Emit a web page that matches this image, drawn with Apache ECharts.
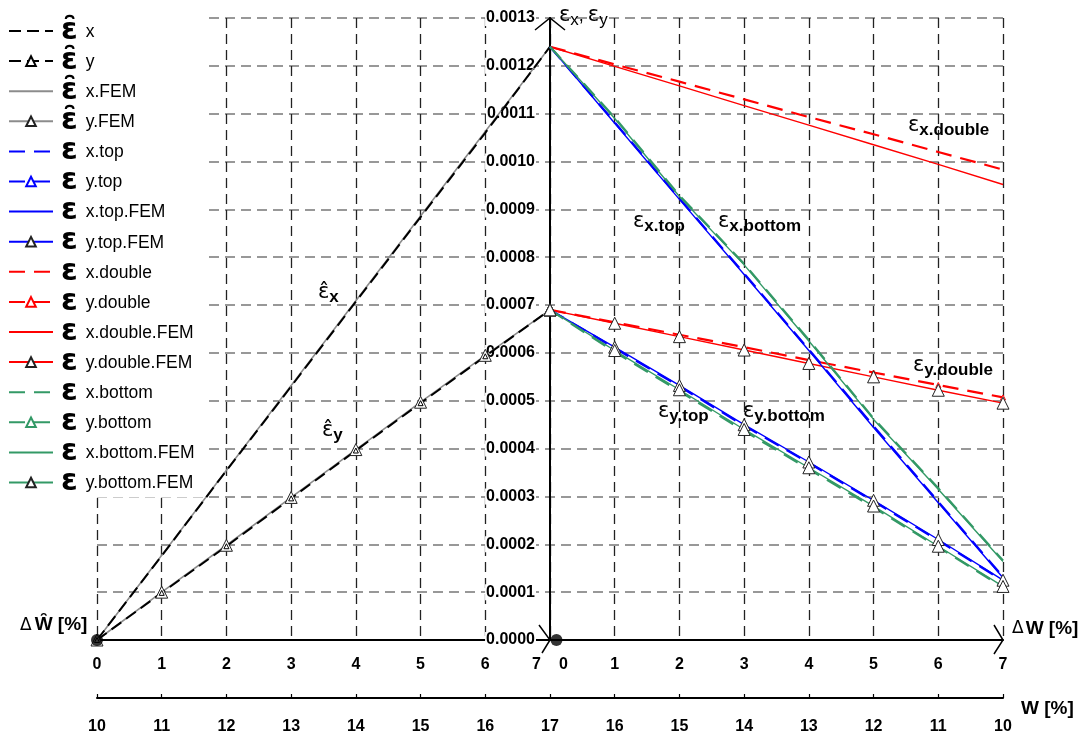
<!DOCTYPE html>
<html><head><meta charset="utf-8">
<script src="https://cdn.jsdelivr.net/npm/echarts@6/dist/echarts.min.js"></script>
<style>html,body{margin:0;padding:0;background:#fff}#c{width:1085px;height:740px}</style>
</head><body><div id="c"></div>
<script>
// ---- data ----
const deltaHatX = [0, 1, 2, 3, 4, 5, 6, 7];      // ΔŴ [%] (left half)
const deltaX = [0, 1, 2, 3, 4, 5, 6, 7];         // ΔW [%] (right half)
const deltaTickLabels = ['0','1','2','3','4','5','6','7|0','1','2','3','4','5','6','7'];
const wTickLabels = ['10','11','12','13','14','15','16','17','16','15','14','13','12','11','10'];

const epsXHat      = [0, 0.000176, 0.000354, 0.000530, 0.000707, 0.000884, 0.001060, 0.001240];
const epsYHat      = [0, 0.0000985, 0.000196, 0.000296, 0.000396, 0.000495, 0.000593, 0.000690];
const epsXHatFEM   = [0, 0.000177, 0.000355, 0.000532, 0.000709, 0.000886, 0.001063, 0.001240];
const epsYHatFEM   = [0, 0.000100, 0.000198, 0.000298, 0.000398, 0.000497, 0.000595, 0.000690];

const epsXTop      = [0.001240, 0.001082, 0.000923, 0.000766, 0.000607, 0.000447, 0.000289, 0.000132];
const epsYTop      = [0.000690, 0.000610, 0.000530, 0.000448, 0.000370, 0.000290, 0.000208, 0.000124];
const epsXTopFEM   = [0.001240, 0.001080, 0.000921, 0.000764, 0.000605, 0.000444, 0.000287, 0.000130];
const epsYTopFEM   = [0.000690, 0.000612, 0.000532, 0.000450, 0.000372, 0.000292, 0.000210, 0.000125];

const epsXDouble    = [0.001240, 0.001203, 0.001167, 0.001130, 0.001093, 0.001057, 0.001020, 0.000983];
const epsYDouble    = [0.000690, 0.000664, 0.000638, 0.000612, 0.000585, 0.000559, 0.000533, 0.000507];
const epsXDoubleFEM = [0.001240, 0.001199, 0.001158, 0.001117, 0.001076, 0.001035, 0.000994, 0.000952];
const epsYDoubleFEM = [0.000690, 0.000662, 0.000634, 0.000606, 0.000578, 0.000550, 0.000522, 0.000495];

const epsXBottom    = [0.001240, 0.001092, 0.000929, 0.000786, 0.000627, 0.000463, 0.000317, 0.000166];
const epsYBottom    = [0.000690, 0.000602, 0.000520, 0.000437, 0.000357, 0.000277, 0.000194, 0.000110];
const epsXBottomFEM = [0.001240, 0.001090, 0.000927, 0.000784, 0.000625, 0.000461, 0.000315, 0.000164];
const epsYBottomFEM = [0.000690, 0.000605, 0.000523, 0.000440, 0.000360, 0.000280, 0.000196, 0.000112];

const originPoints = [[0, 0], [7.1, 0]];

// ---- build ----
const HALF = 7; // right half starts where the left half ends
const left = arr => deltaHatX.map((x, i) => [x, arr[i]]);
const right = arr => deltaX.map((x, i) => [x + HALF, arr[i]]);

const BLACK = '#000', GRAY = '#8c8c8c', BLUE = '#0000ff', RED = '#ff0000', GREEN = '#339966';
const dashMain = [16, 9];
function mk(name, data, color, dashed, tri, width) {
  return {
    name, type: 'line', data, animation: false,
    symbol: tri ? 'triangle' : 'circle',
    symbolSize: tri === 'big' ? 12 : 5,
    showSymbol: !!tri,
    itemStyle: tri ? { color: '#fff', borderColor: tri === 'big' ? '#222' : color, borderWidth: 1 } : { color, opacity: 0 },
    lineStyle: { color, width: width || (dashed ? 2.2 : 1.4), type: dashed ? (color === BLACK ? [12, 6] : dashMain) : 'solid' },
    emphasis: { disabled: true }
  };
}
const H = 'ε\u0302';
const series = [
  mk(H + 'x.FEM', left(epsXHatFEM), GRAY, false, null, 1.6),
  mk(H + 'x', left(epsXHat), BLACK, true, null, 2),
  mk(H + 'y.FEM', left(epsYHatFEM), GRAY, false, 'big', 1.6),
  mk(H + 'y', left(epsYHat), BLACK, true, 'small', 2),
  mk('εx.double', right(epsXDouble), RED, true),
  mk('εx.double.FEM', right(epsXDoubleFEM), RED, false),
  mk('εy.double', right(epsYDouble), RED, true, 'small'),
  mk('εy.double.FEM', right(epsYDoubleFEM), RED, false, 'big'),
  mk('εx.top', right(epsXTop), BLUE, true),
  mk('εx.top.FEM', right(epsXTopFEM), BLUE, false),
  mk('εy.top', right(epsYTop), BLUE, true, 'small'),
  mk('εy.top.FEM', right(epsYTopFEM), BLUE, false, 'big'),
  mk('εx.bottom', right(epsXBottom), GREEN, true),
  mk('εx.bottom.FEM', right(epsXBottomFEM), GREEN, false),
  mk('εy.bottom', right(epsYBottom), GREEN, true, 'small'),
  mk('εy.bottom.FEM', right(epsYBottomFEM), GREEN, false, 'big'),
  { name: 'origin', type: 'scatter', data: originPoints, symbolSize: 12, itemStyle: { color: '#000' }, z: 10, silent: true }
];
const legendOrder = [H+'x', H+'y', H+'x.FEM', H+'y.FEM', 'εx.top', 'εy.top', 'εx.top.FEM', 'εy.top.FEM',
  'εx.double', 'εy.double', 'εx.double.FEM', 'εy.double.FEM', 'εx.bottom', 'εy.bottom', 'εx.bottom.FEM', 'εy.bottom.FEM'];

const chart = echarts.init(document.getElementById('c'), null, { renderer: 'canvas' });
const FONT = 'Liberation Sans, Arial, sans-serif';
chart.setOption({
  backgroundColor: '#fff',
  animation: false,
  grid: { left: 97, right: 82, top: 18, bottom: 100, containLabel: false },
  legend: {
    data: legendOrder, orient: 'vertical', left: 0, top: 10,
    padding: [6, 10, 0, 8], itemGap: 0.1, itemWidth: 44, itemHeight: 12,
    backgroundColor: '#fff', selectedMode: false, z: 20,
    formatter: name => {
      const hat = name.startsWith(H);
      const sub = hat ? name.slice(2) : name.slice(1);
      return '{e|' + (hat ? 'ε\u0311' : 'ε') + '}{s|' + sub + '}';
    },
    textStyle: {
      rich: {
        e: { fontFamily: 'DejaVu Sans', fontWeight: 'bold', fontSize: 30, lineHeight: 20, color: '#000', padding: [0, 8, 0, 3] },
        s: { fontFamily: FONT, fontSize: 17.5, lineHeight: 13, color: '#000', verticalAlign: 'bottom' }
      }
    }
  },
  xAxis: [
    {
      type: 'value', min: 0, max: 14, interval: 1, position: 'bottom',
      axisLine: { show: true, onZero: false, lineStyle: { color: '#000', width: 2 } },
      axisTick: { show: false },
      splitLine: { show: true, lineStyle: { color: '#222', width: 1.3, type: [10, 6] } },
      axisLabel: {
        margin: 17, fontFamily: FONT, fontWeight: 'bold', fontSize: 16, color: '#000',
        formatter: v => {
          const t = deltaTickLabels[v];
          if (t.indexOf('|') >= 0) { const p = t.split('|'); return '{a|' + p[0] + '}{b|' + p[1] + '}'; }
          return t;
        },
        rich: {
          a: { fontFamily: FONT, fontWeight: 'bold', fontSize: 16, color: '#000', padding: [0, 8, 0, 0] },
          b: { fontFamily: FONT, fontWeight: 'bold', fontSize: 16, color: '#000', padding: [0, 0, 0, 10] }
        }
      }
    },
    {
      type: 'value', min: 0, max: 14, interval: 1, position: 'bottom', offset: 58,
      axisLine: { show: true, onZero: false, lineStyle: { color: '#000', width: 2 } },
      axisTick: { show: true, inside: true, length: 4, lineStyle: { color: '#000', width: 1.2 } },
      splitLine: { show: false },
      axisLabel: { margin: 21, fontFamily: FONT, fontWeight: 'bold', fontSize: 16, color: '#000', formatter: v => wTickLabels[v] }
    }
  ],
  yAxis: {
    type: 'value', min: 0, max: 0.0013, interval: 0.0001, position: 'left', offset: -453,
    axisLine: { show: true, onZero: false, lineStyle: { color: '#000', width: 2 } },
    axisTick: { show: false },
    splitLine: { show: true, lineStyle: { color: '#777', width: 1.6, type: [10, 6] } },
    axisLabel: {
      margin: 14, fontFamily: FONT, fontWeight: 'bold', fontSize: 16, color: '#000',
      backgroundColor: '#fff', padding: [0, 1],
      formatter: v => v.toFixed(4)
    }
  },
  series
});

// ---- decorations: arrows, axis names, curve labels ----
const P = (x, y) => chart.convertToPixel({ gridIndex: 0 }, [x, y]);
const j = P(7, 0), e = P(14, 0), t = P(7, 0.0013);
const lineSt = { stroke: '#000', lineWidth: 1.5, fill: null };
const epsRich = {
  e: { fontFamily: 'DejaVu Sans', fontSize: 21, color: '#000', lineHeight: 22 },
  s: { fontFamily: FONT, fontWeight: 'bold', fontSize: 17, color: '#000', lineHeight: 22, padding: [8, 0, 0, 0] }
};
function lab(x, y, sym, sub) {
  return { type: 'text', x, y, z: 30, style: { text: '{e|' + sym + '}{s|' + sub + '}', rich: epsRich } };
}
const titleRich = {
  e: { fontFamily: 'DejaVu Sans', fontSize: 21, color: '#000', lineHeight: 22 },
  s: { fontFamily: FONT, fontSize: 17, color: '#000', lineHeight: 22, padding: [8, 0, 0, 0] },
  c: { fontFamily: FONT, fontSize: 18, color: '#000', lineHeight: 22, padding: [0, 4, 0, 0] }
};
chart.setOption({
  graphic: [
    { type: 'polyline', z: 30, shape: { points: [[e[0] - 9, e[1] - 15], [e[0], e[1]], [e[0] - 9, e[1] + 14]] }, style: lineSt },
    { type: 'polyline', z: 30, shape: { points: [[j[0] - 11, j[1] - 15], [j[0], j[1]], [j[0] - 8, j[1] + 13]] }, style: lineSt },
    { type: 'polyline', z: 30, shape: { points: [[t[0] - 15, t[1] + 12], [t[0], t[1]], [t[0] + 15, t[1] + 12]] }, style: lineSt },
    { type: 'text', x: t[0] + 9, y: 5, z: 30, style: { text: '{e|ε}{s|x}{c|,}{e|ε}{s|y}', rich: titleRich } },
    { type: 'text', x: 20, y: 604, z: 30, style: { text: '{d|Δ}{w|W\u0311}{w| [%]}', rich: {
      d: { fontFamily: 'DejaVu Sans', fontSize: 17, color: '#000', lineHeight: 30, verticalAlign: 'bottom', padding: [0, 3, 0, 0] },
      w: { fontFamily: FONT, fontWeight: 'bold', fontSize: 19, color: '#000', lineHeight: 30, verticalAlign: 'bottom' } } } },
    { type: 'text', x: 1012, y: 619, z: 30, style: { text: '{d|Δ}{w|W [%]}', rich: {
      d: { fontFamily: 'DejaVu Sans', fontSize: 17, color: '#000', padding: [0, 2, 0, 0] },
      w: { fontFamily: FONT, fontWeight: 'bold', fontSize: 19, color: '#000' } } } },
    { type: 'text', x: 1021, y: 699, z: 30, style: { text: 'W [%]', fontFamily: FONT, fontWeight: 'bold', fontSize: 19, fill: '#000' } },
    lab(318, 282, 'ε\u0302', 'x'),
    lab(322, 420, 'ε\u0302', 'y'),
    lab(633, 211, 'ε', 'x.top'),
    lab(718, 211, 'ε', 'x.bottom'),
    lab(658, 401, 'ε', 'y.top'),
    lab(743, 401, 'ε', 'y.bottom'),
    lab(908, 115, 'ε', 'x.double'),
    lab(913, 355, 'ε', 'y.double')
  ]
});
</script>
</body></html>
